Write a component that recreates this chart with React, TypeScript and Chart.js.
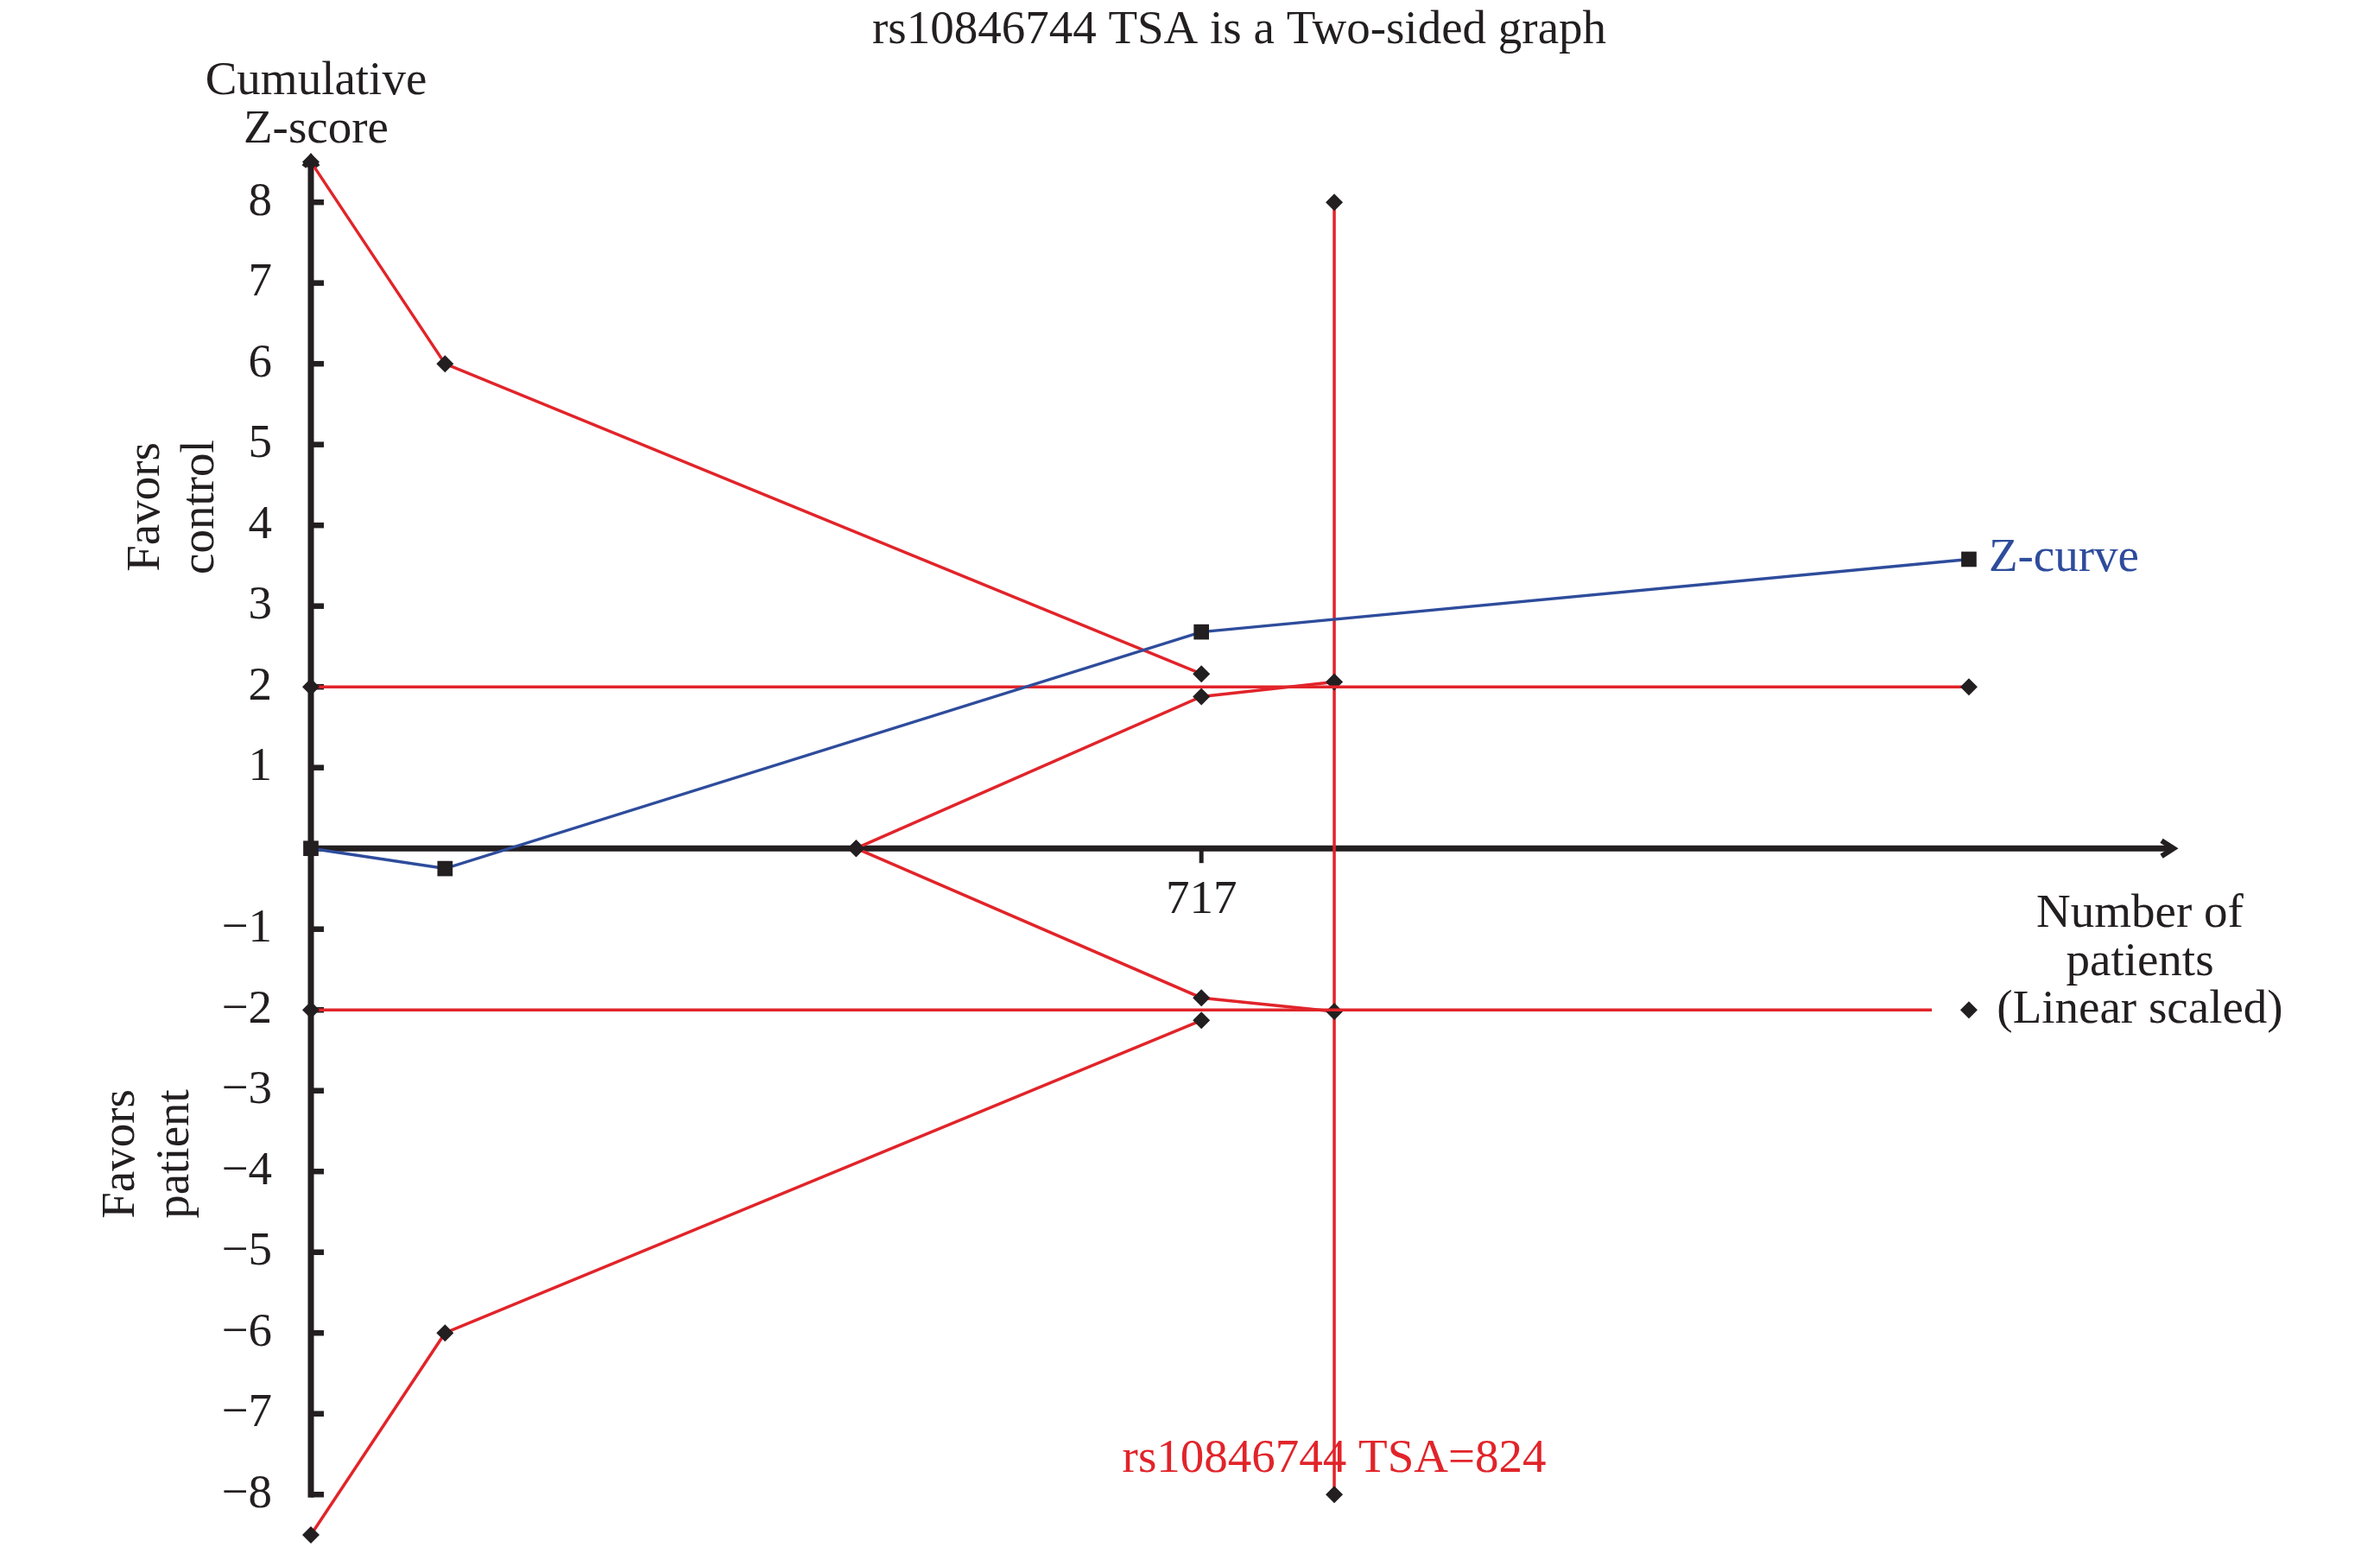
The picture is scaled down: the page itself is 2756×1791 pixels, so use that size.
import React, { useEffect, useRef } from 'react';
import { Chart, registerables } from 'chart.js';

Chart.register(...registerables);

const W = 2756;
const H = 1791;

// ---- data ----
const zCurveX = [0, 108, 717, 1335];
const zCurveY = [0, -0.25, 2.68, 3.58];
const upperOuterX = [0, 108, 717];
const upperOuterY = [8.5, 6.0, 2.16];
const lowerOuterX = [0, 108, 717];
const lowerOuterY = [-8.5, -6.0, -2.13];
const upperInnerX = [439, 717, 824];
const upperInnerY = [0, 1.88, 2.06];
const lowerInnerX = [439, 717, 824];
const lowerInnerY = [0, -1.85, -2.02];
const conventionalX = [0, 1335];
const conventionalUpperY = [2, 2];
const conventionalLowerY = [-2, -2];
const tsaX = [824, 824];
const tsaY = [8, -8];
const yTicks = [-8, -7, -6, -5, -4, -3, -2, -1, 1, 2, 3, 4, 5, 6, 7, 8];
const xTicks = [717];
const xMax = 1504;
const yMin = -8.5;
const yMax = 8.9;
const yArrowTip = 8.6;

const titleText = 'rs10846744 TSA is a Two-sided graph';
const yTitleLines = ['Cumulative', 'Z-score'];
const favorsControl = ['Favors', 'control'];
const favorsPatient = ['Favors', 'patient'];
const xTitleLines = ['Number of', 'patients', '(Linear scaled)'];
const zCurveLabel = 'Z-curve';
const tsaLabel = 'rs10846744 TSA=824';

const FONT = '55px "Liberation Serif", "Times New Roman", serif';
const INK = '#231f20';
const RED = '#e1242a';
const BLUE = '#2e4c9c';

const pts = (xs: number[], ys: number[]) => xs.map((v, i) => ({ x: v, y: ys[i] }));
const fmt = (v: number) => (v < 0 ? '\u2212' + Math.abs(v) : String(v));

const decor = {
  id: 'decor',
  beforeDatasetsDraw(chart: any) {
    const { ctx } = chart;
    const x = chart.scales.x;
    const y = chart.scales.y;
    const x0 = x.getPixelForValue(0);
    const y0 = y.getPixelForValue(0);
    ctx.save();
    ctx.strokeStyle = INK;
    ctx.fillStyle = INK;
    ctx.lineCap = 'butt';
    ctx.lineJoin = 'miter';
    // y axis
    const yTop = y.getPixelForValue(yArrowTip);
    const yBot = y.getPixelForValue(-8);
    ctx.lineWidth = 7;
    ctx.beginPath();
    ctx.moveTo(x0, yBot + 3.5);
    ctx.lineTo(x0, yTop + 4);
    ctx.stroke();
    ctx.lineWidth = 6;
    ctx.beginPath();
    ctx.moveTo(x0 - 8, yTop + 15);
    ctx.lineTo(x0, yTop + 4);
    ctx.lineTo(x0 + 8, yTop + 15);
    ctx.stroke();
    // x axis
    const xEnd = x.getPixelForValue(xMax) - 6;
    ctx.lineWidth = 7;
    ctx.beginPath();
    ctx.moveTo(x0, y0);
    ctx.lineTo(xEnd, y0);
    ctx.stroke();
    ctx.lineWidth = 6;
    ctx.beginPath();
    ctx.moveTo(xEnd - 14, y0 - 9);
    ctx.lineTo(xEnd, y0);
    ctx.lineTo(xEnd - 14, y0 + 9);
    ctx.stroke();
    // y ticks
    ctx.lineWidth = 6.5;
    ctx.font = FONT;
    ctx.textAlign = 'right';
    ctx.textBaseline = 'middle';
    yTicks.forEach((v) => {
      const py = y.getPixelForValue(v);
      ctx.beginPath();
      ctx.moveTo(x0, py);
      ctx.lineTo(x0 + 15, py);
      ctx.stroke();
      ctx.fillText(fmt(v), x0 - 45, py);
    });
    // x ticks
    ctx.textAlign = 'center';
    ctx.textBaseline = 'alphabetic';
    ctx.lineWidth = 5;
    xTicks.forEach((v) => {
      const px = x.getPixelForValue(v);
      ctx.beginPath();
      ctx.moveTo(px, y0);
      ctx.lineTo(px, y0 + 17);
      ctx.stroke();
      ctx.fillText(String(v), px, y0 + 75);
    });
    ctx.restore();
  },
  afterDatasetDraw(chart: any, args: any) {
    if (args.index !== 3) return;
    const { ctx } = chart;
    const y = chart.scales.y;
    const y0 = y.getPixelForValue(0);
    const cx = 2478;
    ctx.save();
    ctx.fillStyle = '#ffffff';
    ctx.fillRect(cx - 241, y0 + 35, 480, 190);
    ctx.fillStyle = INK;
    ctx.font = FONT;
    ctx.textAlign = 'center';
    ctx.textBaseline = 'alphabetic';
    xTitleLines.forEach((t, i) => ctx.fillText(t, cx, y0 + 91 + i * 55.5));
    ctx.restore();
  },
  afterDatasetsDraw(chart: any) {
    const { ctx } = chart;
    const x = chart.scales.x;
    const y = chart.scales.y;
    ctx.save();
    ctx.font = FONT;
    ctx.fillStyle = INK;
    ctx.textAlign = 'center';
    ctx.textBaseline = 'alphabetic';
    ctx.fillText(titleText, 1435, 50);
    ctx.fillText(yTitleLines[0], 366, 109);
    ctx.fillText(yTitleLines[1], 366, 165);
    const rot = (lines: string[], xs: number[], cy: number) => {
      lines.forEach((t, i) => {
        ctx.save();
        ctx.translate(xs[i], cy);
        ctx.rotate(-Math.PI / 2);
        ctx.fillText(t, 0, 0);
        ctx.restore();
      });
    };
    rot(favorsControl, [184, 247], 587);
    rot(favorsPatient, [155, 218], 1336);
    // Z-curve label
    const lx = x.getPixelForValue(zCurveX[zCurveX.length - 1]);
    const ly = y.getPixelForValue(zCurveY[zCurveY.length - 1]);
    ctx.fillStyle = BLUE;
    ctx.textAlign = 'left';
    ctx.fillText(zCurveLabel, lx + 23, ly + 14);
    // TSA label
    ctx.fillStyle = RED;
    ctx.textAlign = 'center';
    ctx.fillText(tsaLabel, x.getPixelForValue(tsaX[0]), y.getPixelForValue(tsaY[1]) - 26);
    ctx.restore();
  },
};

const lineDs = (data: any[], color: string, withPoints: boolean, style = 'rectRot') => ({
  data,
  showLine: true,
  borderColor: color,
  borderWidth: 3.5,
  pointStyle: style,
  pointRadius: withPoints ? (style === 'rect' ? 12.5 : 10) : 0,
  pointBackgroundColor: INK,
  pointBorderColor: INK,
  pointBorderWidth: 0,
  tension: 0,
  clip: false as any,
});

export default function App() {
  const ref = useRef<HTMLCanvasElement | null>(null);
  useEffect(() => {
    document.body.style.margin = '0';
    if (!ref.current) return;
    const chart = new Chart(ref.current, {
      type: 'scatter',
      data: {
        datasets: [
          lineDs(pts(zCurveX, zCurveY), BLUE, true, 'rect'),
          { ...lineDs(pts(conventionalX, conventionalLowerY), RED, true), showLine: false },
          lineDs(pts(conventionalX, conventionalUpperY), RED, true),
          lineDs(pts(conventionalX, conventionalLowerY), RED, false),
          lineDs(pts(upperInnerX, upperInnerY), RED, true),
          lineDs(pts(lowerInnerX, lowerInnerY), RED, true),
          lineDs(pts(upperOuterX, upperOuterY), RED, true),
          lineDs(pts(lowerOuterX, lowerOuterY), RED, true),
          lineDs(pts(tsaX, tsaY), RED, true),
        ] as any,
      },
      options: {
        animation: false,
        responsive: false,
        devicePixelRatio: 1,
        layout: { padding: { left: 360, right: W - 2523, top: 150, bottom: H - 1777 } },
        plugins: { legend: { display: false }, tooltip: { enabled: false }, title: { display: false } },
        events: [],
        scales: {
          x: { type: 'linear', min: 0, max: xMax, display: false },
          y: { type: 'linear', min: yMin, max: yMax, display: false },
        },
      },
      plugins: [decor],
    });
    return () => chart.destroy();
  }, []);
  return <canvas ref={ref} width={W} height={H} style={{ display: 'block', width: W, height: H }} />;
}
